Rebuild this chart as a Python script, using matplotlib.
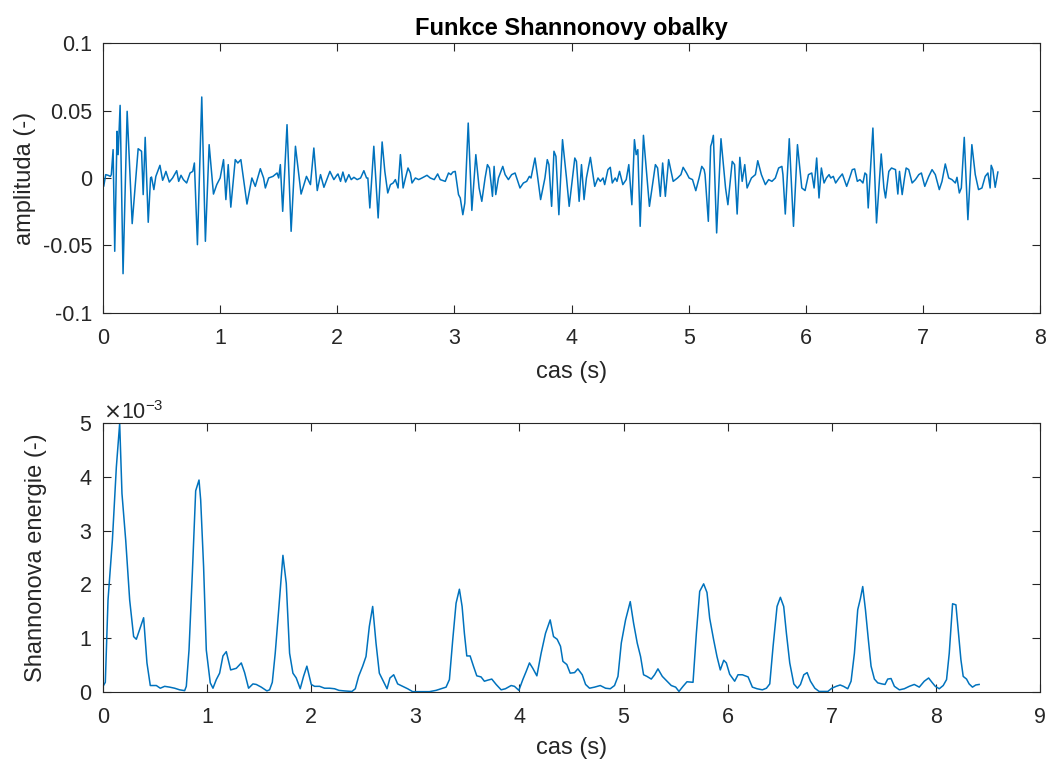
import numpy as np
import matplotlib
matplotlib.use("Agg")
import matplotlib.pyplot as plt
from matplotlib.ticker import ScalarFormatter

plt.rcParams['font.family'] = ['Liberation Sans', 'DejaVu Sans']
plt.rcParams['axes.unicode_minus'] = False

# horni graf - signal (cas v s, amplituda)
sig_t = [0.000, 0.006, 0.023, 0.043, 0.063, 0.071, 0.086, 0.100, 0.120, 0.129, 0.137, 0.146, 0.171, 0.206,
         0.249, 0.300, 0.329, 0.343, 0.360, 0.386, 0.406, 0.414, 0.434, 0.451, 0.486, 0.509, 0.520, 0.537,
         0.566, 0.594, 0.629, 0.646, 0.666, 0.686, 0.714, 0.743, 0.766, 0.780, 0.806, 0.843, 0.874, 0.906,
         0.943, 0.971, 1.000, 1.029, 1.049, 1.069, 1.091, 1.129, 1.151, 1.177, 1.229, 1.271, 1.300, 1.343,
         1.371, 1.386, 1.414, 1.451, 1.486, 1.500, 1.514, 1.534, 1.571, 1.606, 1.643, 1.691, 1.737, 1.771,
         1.800, 1.829, 1.857, 1.886, 1.937, 1.971, 2.000,
         2.006, 2.028, 2.048, 2.071, 2.099, 2.119, 2.142, 2.170, 2.199, 2.227, 2.250, 2.261, 2.278, 2.312,
         2.349, 2.383, 2.406, 2.431, 2.454, 2.477, 2.496, 2.519, 2.539, 2.562, 2.582, 2.604, 2.624, 2.638,
         2.667, 2.695, 2.723, 2.766, 2.794, 2.828, 2.857, 2.879, 2.922, 2.950, 2.970, 2.987,
         3.007, 3.035, 3.050, 3.072, 3.089, 3.118, 3.149, 3.183, 3.211, 3.234, 3.262, 3.282, 3.299, 3.325,
         3.339, 3.353, 3.376, 3.413, 3.433, 3.461, 3.489, 3.518, 3.560, 3.589, 3.617, 3.640, 3.654, 3.688,
         3.708, 3.736, 3.773, 3.793, 3.807, 3.830, 3.850, 3.867, 3.892, 3.923, 3.957, 3.980,
         4.028, 4.042, 4.065, 4.085, 4.107, 4.127, 4.161, 4.198, 4.226, 4.246, 4.269, 4.283, 4.311, 4.331,
         4.348, 4.373, 4.388, 4.410, 4.438, 4.467, 4.489, 4.515, 4.537, 4.552, 4.566, 4.586, 4.614, 4.665,
         4.716, 4.735, 4.758, 4.778, 4.801, 4.829, 4.868, 4.905, 4.934, 4.953, 4.982,
         5.004, 5.033, 5.061, 5.089, 5.112, 5.132, 5.140, 5.168, 5.188, 5.197, 5.211, 5.239, 5.276, 5.315,
         5.335, 5.372, 5.392, 5.414, 5.437, 5.457, 5.479, 5.499, 5.536, 5.570, 5.590, 5.621, 5.655, 5.683,
         5.711, 5.740, 5.768, 5.796, 5.805, 5.825, 5.859, 5.895, 5.929, 5.966, 5.994,
         6.023, 6.051, 6.071, 6.093, 6.113, 6.133, 6.156, 6.176, 6.199, 6.213, 6.235, 6.255, 6.284, 6.312,
         6.349, 6.374, 6.397, 6.417, 6.440, 6.462, 6.488, 6.505, 6.519, 6.533, 6.573, 6.604, 6.644, 6.667,
         6.681, 6.709, 6.732, 6.766, 6.786, 6.800, 6.823, 6.843, 6.857, 6.879, 6.908, 6.936, 6.965, 6.987,
         7.016, 7.050, 7.078, 7.106, 7.140, 7.163, 7.191, 7.220, 7.248, 7.277, 7.291, 7.311, 7.328, 7.353,
         7.384, 7.418, 7.447, 7.475, 7.504, 7.532, 7.555, 7.574, 7.583, 7.597, 7.617, 7.640]
sig_a = [0, -0.0062, 0.0025, 0.0020, 0.0012, 0.0025, 0.0210, -0.0543, 0.0346, 0.0173, 0.0346, 0.0538, -0.0709, 0.0494,
         -0.0338, 0.0217, 0.0198, -0.0123, 0.0301, -0.0328, 0, 0.0007, -0.0086, 0.0012, 0.0094, -0.0017, 0.0005, 0.0049,
         -0.0030, 0, 0.0054, -0.0025, 0.0020, -0.0012, -0.0037, 0.0037, 0.0049, 0.0111, -0.0494, 0.0600, -0.0469, 0.0247,
         -0.0119, -0.0049, 0, 0.0136, -0.0160, 0.0099, -0.0216, 0.0136, 0.0111, 0.0136, -0.0193, 0, -0.0062, 0.0069,
         0, -0.0074, 0, 0.0012, 0.0037, 0, 0.0099, -0.0247, 0.0395, -0.0395, 0.0235, -0.0119, 0.0012, -0.0049,
         0.0222, -0.0093, 0.0025, -0.0069, 0.0049, -0.0012, 0.0025,
         0.0030, -0.0025, 0.0044, -0.0030, 0.0025, -0.0012, 0.0005, -0.0012, 0, 0.0054, 0, 0, -0.0222, 0.0235,
         -0.0296, 0.0267, 0.0049, -0.0111, -0.0049, -0.0037, -0.0012, -0.0074, 0.0173, -0.0074, 0, 0.0074, 0.0037, -0.0037,
         0, -0.0012, 0, 0.0020, 0, -0.0012, 0.0030, -0.0012, -0.0025, 0.0037, 0.0025, 0.0044,
         0.0049, -0.0123, -0.0148, -0.0272, -0.0185, 0.0407, -0.0240, 0.0173, -0.0074, -0.0173, 0, 0.0099, 0.0074, -0.0136,
         0.0086, -0.0123, 0, 0.0086, 0.0025, -0.0012, 0.0025, 0.0037, -0.0074, -0.0037, -0.0025, 0.0012, 0, 0.0148,
         0.0025, -0.0160, 0, 0.0136, 0.0099, -0.0210, 0.0198, 0.0160, -0.0272, 0.0284, 0, -0.0210,
         0.0148, 0.0123, -0.0173, 0.0099, -0.0160, 0, 0.0153, -0.0062, 0, -0.0025, 0, -0.0049, 0.0062, 0.0079,
         -0.0037, 0, -0.0025, 0.0049, -0.0049, -0.0012, 0.0099, -0.0198, 0.0284, 0.0173, 0.0210, -0.0358, 0.0316, -0.0210,
         0.0099, 0.0074, -0.0136, 0.0111, -0.0136, 0.0136, -0.0025, 0, 0.0025, 0.0079, 0.0037,
         0, -0.0012, -0.0094, 0, 0.0086, 0.0062, 0.0025, -0.0321, 0.0235, 0.0259, 0.0316, -0.0407, 0.0291, -0.0074,
         -0.0198, 0.0123, 0.0099, -0.0267, 0.0153, -0.0025, 0.0099, -0.0074, 0, 0.0025, 0.0128, 0.0025, -0.0049, -0.0012,
         -0.0025, 0, 0.0074, 0.0086, 0.0025, -0.0267, 0.0291, -0.0358, 0.0247, -0.0074, -0.0093,
         0.0025, 0.0037, -0.0074, 0.0148, -0.0148, 0.0074, -0.0037, 0, 0.0025, 0, 0.0012, -0.0037, 0, 0.0030,
         -0.0062, 0, 0.0062, 0.0067, -0.0025, -0.0012, -0.0037, 0.0037, 0.0025, -0.0222, 0.0370, -0.0333, 0.0178, -0.0074,
         -0.0148, 0.0049, 0.0074, 0.0062, -0.0119, 0.0049, -0.0123, 0, 0.0074, 0.0062, -0.0037, -0.0012, 0.0025, 0.0037,
         -0.0062, 0.0012, 0.0062, 0.0025, -0.0086, -0.0025, 0.0104, 0, -0.0012, -0.0037, 0.0005, -0.0111, -0.0074, 0.0301,
         -0.0309, 0.0247, 0.0025, -0.0086, -0.0074, 0.0012, 0.0037, -0.0074, 0.0094, 0.0062, -0.0069, 0.0044]

# dolni graf - Shannonova energie (v jednotkach 1e-3)
env_t = [0.000, 0.022, 0.048, 0.090, 0.128, 0.160, 0.182, 0.218, 0.256, 0.294, 0.320, 0.352, 0.390, 0.422,
         0.454, 0.480, 0.512, 0.550, 0.592, 0.640, 0.688, 0.736, 0.784, 0.800, 0.826, 0.858, 0.890, 0.922,
         0.938, 0.966, 0.992, 1.030, 1.056, 1.088, 1.120, 1.152, 1.184, 1.226, 1.280, 1.328, 1.360, 1.398,
         1.440, 1.472, 1.520, 1.574, 1.600, 1.626, 1.654, 1.690, 1.728, 1.760, 1.792, 1.824, 1.856, 1.894,
         1.926, 1.958, 2.000, 2.032, 2.080, 2.128, 2.176, 2.224, 2.266,
         2.317, 2.391, 2.423, 2.455, 2.494, 2.526, 2.558, 2.590, 2.622, 2.654, 2.692, 2.728, 2.756, 2.792,
         2.830, 2.878, 2.926, 2.974, 3.038, 3.135, 3.199, 3.247, 3.295, 3.327, 3.359, 3.391, 3.423, 3.449,
         3.471, 3.494, 3.526, 3.558, 3.590, 3.631, 3.663, 3.696, 3.734, 3.776, 3.824, 3.865, 3.920, 3.952,
         3.994, 4.032, 4.064, 4.096, 4.128, 4.167, 4.208, 4.250, 4.295, 4.327, 4.362, 4.394, 4.417, 4.455,
         4.487, 4.529, 4.561,
         4.603, 4.635, 4.673, 4.721, 4.776, 4.827, 4.872, 4.913, 4.946, 4.978, 5.019, 5.064, 5.096, 5.131,
         5.163, 5.192, 5.224, 5.266, 5.298, 5.330, 5.372, 5.417, 5.458, 5.500, 5.532, 5.571, 5.609, 5.667,
         5.699, 5.731, 5.769, 5.801, 5.827, 5.865, 5.897, 5.929, 5.962, 5.987, 6.019, 6.067, 6.099, 6.141,
         6.196, 6.237, 6.282, 6.333, 6.372, 6.404, 6.436, 6.474, 6.506, 6.538, 6.564, 6.596, 6.635, 6.670,
         6.699, 6.731, 6.763, 6.795, 6.837, 6.878,
         6.962, 7.000, 7.042, 7.080, 7.112, 7.153, 7.185, 7.217, 7.249, 7.275, 7.297, 7.323, 7.351, 7.377,
         7.409, 7.441, 7.482, 7.511, 7.537, 7.569, 7.601, 7.649, 7.696, 7.744, 7.792, 7.840, 7.888, 7.930,
         7.962, 7.994, 8.032, 8.070, 8.102, 8.128, 8.160, 8.192, 8.217, 8.240, 8.262, 8.294, 8.319, 8.351,
         8.383, 8.415]
env_e = [0.105, 0.18, 1.71, 2.82, 4.18, 4.99, 3.69, 2.82, 1.71, 1.03, 0.98, 1.16, 1.38, 0.54,
         0.12, 0.12, 0.12, 0.07, 0.105, 0.09, 0.07, 0.04, 0.025, 0.105, 0.78, 2.21, 3.74, 3.94,
         3.57, 2.33, 0.78, 0.17, 0.07, 0.23, 0.35, 0.67, 0.75, 0.41, 0.44, 0.54, 0.36, 0.07,
         0.15, 0.14, 0.09, 0.02, 0.04, 0.18, 0.72, 1.59, 2.54, 2.02, 0.72, 0.35, 0.26, 0.06,
         0.29, 0.48, 0.14, 0.105, 0.105, 0.07, 0.07, 0.06, 0.03,
         0.02, 0.01, 0.06, 0.29, 0.48, 0.66, 1.22, 1.59, 0.91, 0.35, 0.20, 0.06, 0.26, 0.32,
         0.15, 0.105, 0.06, 0.006, 0.006, 0.006, 0.03, 0.06, 0.09, 0.23, 0.97, 1.65, 1.91, 1.59,
         1.09, 0.67, 0.67, 0.48, 0.30, 0.28, 0.20, 0.22, 0.24, 0.14, 0.04, 0.06, 0.12, 0.105,
         0.03, 0.23, 0.38, 0.54, 0.44, 0.30, 0.72, 1.09, 1.34, 1.03, 0.98, 0.85, 0.57, 0.51,
         0.35, 0.36, 0.43,
         0.32, 0.14, 0.07, 0.09, 0.12, 0.07, 0.06, 0.12, 0.29, 0.91, 1.34, 1.68, 1.28, 0.91,
         0.66, 0.32, 0.29, 0.24, 0.32, 0.43, 0.29, 0.20, 0.12, 0.09, 0.01, 0.105, 0.19, 0.18,
         1.09, 1.87, 2.01, 1.85, 1.37, 0.97, 0.66, 0.41, 0.59, 0.54, 0.33, 0.20, 0.32, 0.32,
         0.28, 0.09, 0.06, 0.04, 0.07, 0.15, 0.85, 1.59, 1.76, 1.59, 1.09, 0.54, 0.15, 0.07,
         0.14, 0.32, 0.36, 0.20, 0.07, 0.01,
         0.01, 0.07, 0.105, 0.13, 0.105, 0.06, 0.20, 0.72, 1.53, 1.74, 1.96, 1.53, 0.97, 0.48,
         0.24, 0.17, 0.15, 0.14, 0.24, 0.25, 0.105, 0.04, 0.06, 0.105, 0.14, 0.09, 0.20, 0.26,
         0.18, 0.105, 0.06, 0.12, 0.23, 0.72, 1.64, 1.62, 1.09, 0.60, 0.29, 0.24, 0.15, 0.09,
         0.13, 0.14]
env_scale = 1e-3

top_yticks = [-0.1, -0.05, 0, 0.05, 0.1]
top_yticklabels = ['-0.1', '-0.05', '0', '0.05', '0.1']

line_col = '#0072BD'
ax_col = '#262626'
fs_tick = 15.5
fs_lab = 17

fig = plt.figure(figsize=(10.48, 7.6), dpi=100)
ax1 = fig.add_axes([0.0983, 0.5882, 0.8941, 0.3552])
ax2 = fig.add_axes([0.0983, 0.0895, 0.8941, 0.3539])

ax1.plot(sig_t, sig_a, color=line_col, linewidth=1.1)
ax1.set_xlim(0, 8)
ax1.set_ylim(-0.1, 0.1)
ax1.set_xticks(range(0, 9))
ax1.set_yticks(top_yticks)
ax1.set_yticklabels(top_yticklabels)
ax1.set_title('Funkce Shannonovy obalky', fontsize=fs_lab, fontweight='bold', color='black', pad=6)
ax1.set_xlabel('cas (s)', fontsize=fs_lab, color=ax_col)
ax1.set_ylabel('amplituda (-)', fontsize=fs_lab, color=ax_col)

ax2.plot(env_t, np.array(env_e) * env_scale, color=line_col, linewidth=1.1)
ax2.set_xlim(0, 9)
ax2.set_ylim(0, 5e-3)
ax2.set_xticks(range(0, 10))
ax2.set_yticks(np.arange(0, 6) * env_scale)
fmt = ScalarFormatter(useMathText=True)
fmt.set_powerlimits((-3, -3))
ax2.yaxis.set_major_formatter(fmt)
ax2.yaxis.get_offset_text().set_fontsize(fs_tick)
ax2.yaxis.get_offset_text().set_color(ax_col)
ax2.set_xlabel('cas (s)', fontsize=fs_lab, color=ax_col)
ax2.set_ylabel('Shannonova energie (-)', fontsize=fs_lab, color=ax_col)

for ax in (ax1, ax2):
    for s in ax.spines.values():
        s.set_color(ax_col)
        s.set_linewidth(0.8)
    ax.tick_params(direction='in', length=6, width=0.8, colors=ax_col, labelsize=fs_tick,
                   top=True, right=True, pad=8)
    ax.tick_params(axis='x', pad=11)

ax1.xaxis.set_label_coords(0.5, -0.178)
ax2.xaxis.set_label_coords(0.5, -0.166)
ax1.yaxis.set_label_coords(-0.071, 0.5)
ax2.yaxis.set_label_coords(-0.060, 0.5)

fig.savefig('out.png', dpi=100)
